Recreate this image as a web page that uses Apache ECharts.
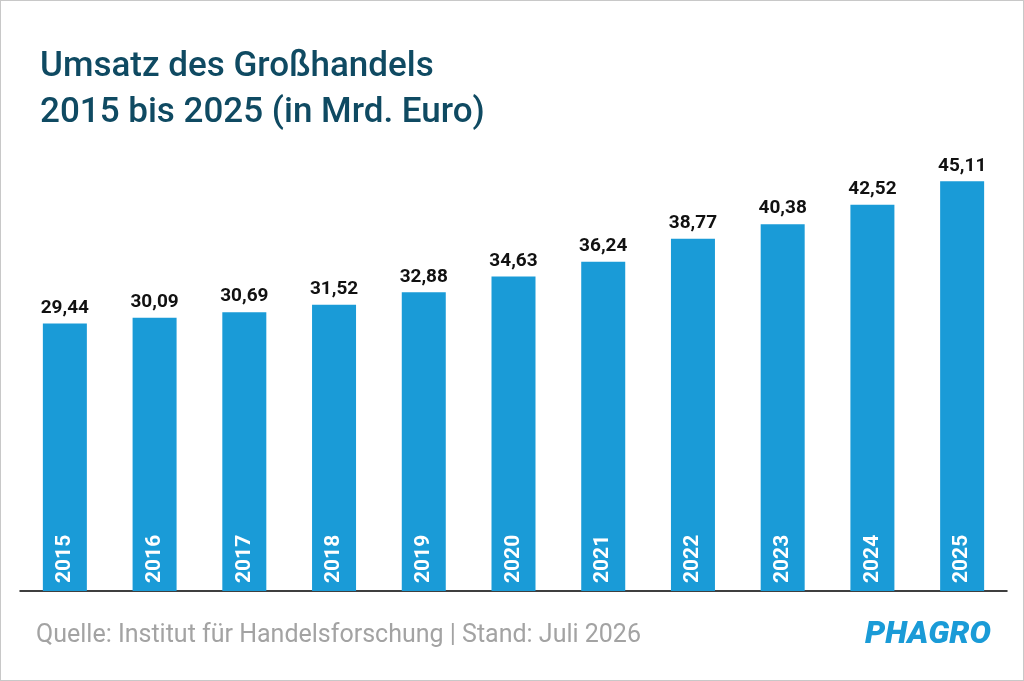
<!DOCTYPE html>
<html><head><meta charset="utf-8">
<script src="https://cdn.jsdelivr.net/npm/echarts@6/dist/echarts.min.js"></script>
<style>html,body{margin:0;padding:0;background:#fff}#c{width:1024px;height:681px;box-sizing:border-box;border:1px solid #c8c8c8}</style>
</head><body><div id="c"></div>
<script>
var years = ['2015','2016','2017','2018','2019','2020','2021','2022','2023','2024','2025'];
var umsatz = [29.44, 30.09, 30.69, 31.52, 32.88, 34.63, 36.24, 38.77, 40.38, 42.52, 45.11];

var chart = echarts.init(document.getElementById('c'));
var fmt = function (v) { return v.toFixed(2).replace('.', ','); };
chart.setOption({
  animation: false,
  textStyle: { fontFamily: 'Roboto' },
  title: {
    text: 'Umsatz des Großhandels\n2015 bis 2025 (in Mrd. Euro)',
    left: 34, top: 38,
    textStyle: { color: '#0f4a62', fontSize: 35, fontWeight: 500, lineHeight: 46, fontFamily: 'Roboto' }
  },
  graphic: [
    { type: 'text', left: 35, top: 622, style: { text: 'Quelle: Institut für Handelsforschung | Stand: Juli 2026', fill: '#a3a3a3', fontSize: 25, fontFamily: 'Roboto' } },
    { type: 'text', right: 32, top: 618, style: { text: 'PHAGRO', fill: '#1a9bd7', fontSize: 32, fontWeight: 900, fontStyle: 'italic', fontFamily: 'Roboto' } }
  ],
  grid: { left: 19, right: 16, top: 45, bottom: 89 },
  xAxis: {
    type: 'category', data: years,
    axisLine: { lineStyle: { color: '#000', width: 1.5 } },
    axisTick: { show: false }, axisLabel: { show: false }
  },
  yAxis: { type: 'value', min: 0, max: 60, show: false, splitLine: { show: false } },
  series: [
    {
      type: 'bar', data: umsatz, barWidth: 44,
      itemStyle: { color: '#1a9bd7' },
      label: { show: true, position: 'top', distance: 6, color: '#111', fontSize: 19, fontWeight: 'bold',
        formatter: function (p) { return fmt(p.value); } }
    },
    {
      type: 'bar', data: umsatz, barWidth: 44, barGap: '-100%',
      itemStyle: { color: 'transparent' },
      label: { show: true, position: 'insideBottom', rotate: 90, align: 'left', verticalAlign: 'middle', distance: 8,
        color: '#fff', fontSize: 21, fontWeight: 'bold', formatter: function (p) { return p.name; } }
    }
  ]
});
</script></body></html>
